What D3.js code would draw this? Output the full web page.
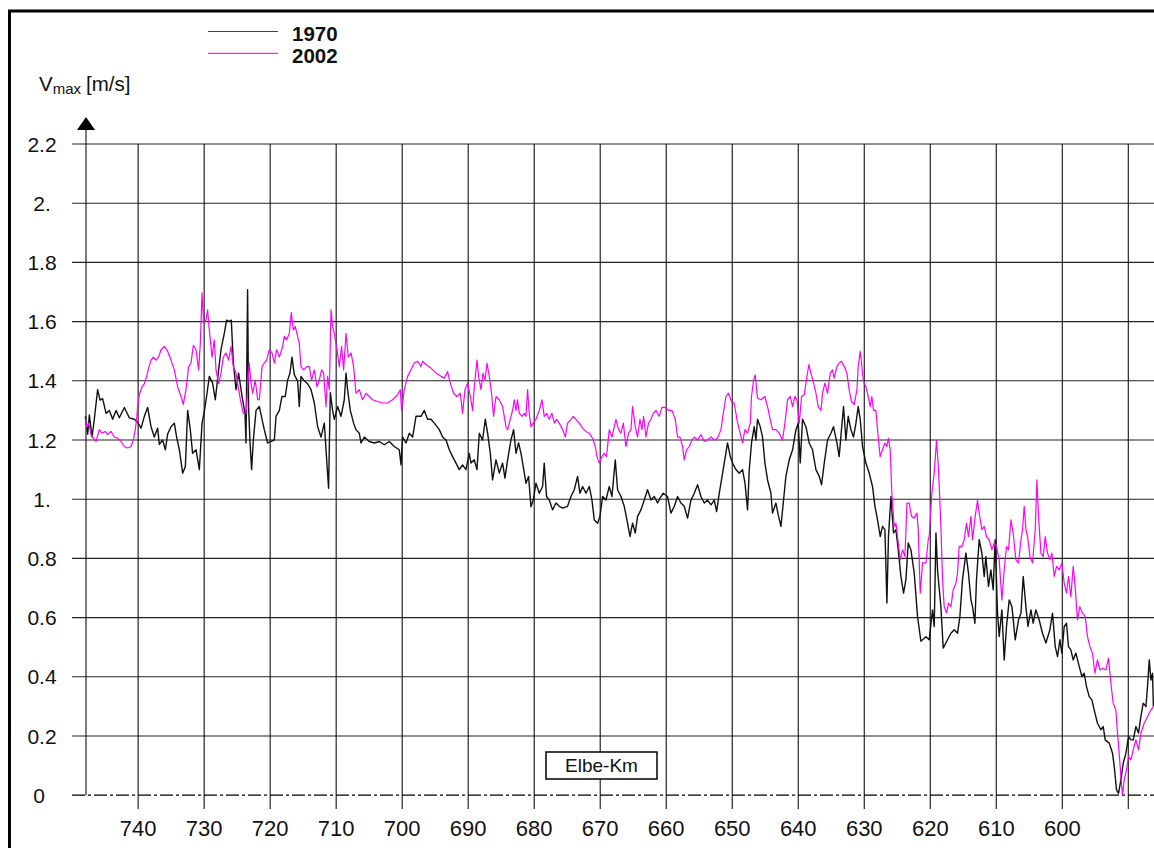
<!DOCTYPE html>
<html><head><meta charset="utf-8">
<script src="https://cdn.jsdelivr.net/npm/d3@7/dist/d3.min.js"></script>
<style>html,body{margin:0;padding:0;background:#fff;overflow:hidden}</style>
</head><body>
<svg id="c" width="1154" height="848"></svg>
<script>
// ---------- data ----------
const seriesNames = ["1970", "2002"];
const xTickKm = [740, 730, 720, 710, 700, 690, 680, 670, 660, 650, 640, 630, 620, 610, 600, 590];
const xTickLabels = ["740","730","720","710","700","690","680","670","660","650","640","630","620","610","600",""];
const yTicks = [0, 0.2, 0.4, 0.6, 0.8, 1.0, 1.2, 1.4, 1.6, 1.8, 2.0, 2.2];
const yTickLabels = ["0","0.2","0.4","0.6","0.8","1.","1.2","1.4","1.6","1.8","2.","2.2"];
const axisLabelX = "Elbe-Km";

const km1970 = [
748.0,747.65,747.39,746.99,746.64,746.14,745.77,745.38,744.86,744.36,
743.86,743.35,742.85,742.09,741.34,740.58,740.08,739.56,739.06,738.56,
738.05,737.55,737.05,736.79,736.29,735.88,735.53,735.02,734.52,734.17,
733.76,733.26,732.85,732.50,732.10,731.75,731.23,730.73,730.32,729.98,
729.63,729.22,728.72,728.31,727.81,727.45,726.95,726.60,726.19,725.89,
725.58,725.17,724.78,724.26,723.81,723.66,723.42,723.27,723.05,722.81,
722.55,722.14,721.64,721.23,720.89,720.39,719.87,719.37,719.11,718.61,
718.21,717.71,717.36,717.00,716.69,716.34,715.84,715.59,715.33,714.83,
714.33,713.81,713.31,712.81,712.30,711.80,711.54,711.15,710.89,710.54,
710.28,709.78,709.27,708.77,708.51,708.27,707.86,707.36,707.00,706.50,
706.24,705.74,704.98,704.23,703.47,702.71,701.95,701.20,700.44,700.18,
699.94,699.42,698.92,698.42,697.91,697.15,696.65,696.15,695.64,695.14,
694.38,693.88,693.36,692.86,692.36,691.85,691.35,690.85,690.34,689.84,
689.58,689.08,688.67,688.32,687.82,687.41,687.06,686.65,686.31,685.79,
685.29,684.79,684.43,684.03,683.52,683.12,682.76,682.37,682.00,681.66,
681.25,680.85,680.49,680.14,679.73,679.23,678.73,678.48,678.13,677.72,
677.22,676.70,676.20,675.70,674.95,674.43,673.93,673.43,673.07,672.67,
672.16,671.66,671.25,670.90,670.40,670.04,669.64,669.13,668.63,668.22,
667.72,667.37,666.86,666.36,665.86,665.49,665.10,664.69,664.34,663.83,
663.33,662.83,662.31,661.81,661.31,660.80,660.45,659.80,659.28,658.78,
658.28,657.77,657.27,656.77,656.25,655.75,655.25,654.74,654.24,653.74,
653.22,652.72,652.37,651.97,651.71,651.21,650.71,650.30,649.95,649.44,
648.94,648.44,648.07,647.68,647.42,647.08,646.67,646.41,646.17,645.76,
645.41,645.05,644.65,644.14,643.90,643.38,643.03,642.62,642.23,641.87,
641.36,640.86,640.35,640.00,639.70,639.35,638.84,638.34,637.84,637.32,
636.82,636.47,636.06,635.56,635.05,634.66,634.14,633.80,633.45,633.14,
632.78,632.43,632.02,631.63,631.26,630.92,630.61,630.26,629.75,629.25,
628.75,628.38,627.99,627.58,627.24,626.87,626.57,626.33,625.96,625.57,
625.20,624.85,624.45,624.05,623.69,623.34,622.93,622.43,621.93,621.42,
620.66,620.16,619.66,619.40,619.14,618.90,618.39,618.04,617.39,616.87,
616.37,615.87,615.51,615.12,614.60,614.21,613.84,613.60,613.24,613.00,
612.59,612.18,611.83,611.58,611.18,610.82,610.47,610.17,609.81,609.56,
609.15,608.80,608.45,608.04,607.63,607.13,606.63,606.26,605.92,605.51,
605.20,604.75,604.41,604.00,603.50,603.00,602.48,601.88,601.48,601.07,
600.72,600.36,600.06,599.71,599.36,599.06,598.70,598.35,597.94,597.44,
597.03,596.68,596.33,595.92,595.52,595.17,594.67,594.15,593.80,593.50,
592.89,592.39,592.13,591.78,591.48,591.12,590.77,590.36,589.96,589.60,
589.25,588.85,588.45,588.09,587.74,587.33,587.09,586.83,586.57,586.33,586.2];

const v1970 = [
1.28,1.22,1.285,1.21,1.27,1.37,1.335,1.34,1.29,1.30,
1.27,1.30,1.275,1.31,1.275,1.27,1.26,1.24,1.28,1.31,
1.245,1.21,1.24,1.185,1.20,1.167,1.22,1.245,1.257,1.21,
1.167,1.088,1.11,1.30,1.235,1.155,1.167,1.10,1.257,1.296,
1.347,1.415,1.392,1.336,1.437,1.505,1.56,1.605,1.60,1.605,
1.46,1.37,1.426,1.347,1.29,1.19,1.708,1.313,1.19,1.10,
1.20,1.30,1.313,1.27,1.235,1.19,1.195,1.20,1.28,1.30,
1.347,1.347,1.402,1.426,1.48,1.42,1.40,1.313,1.415,1.40,
1.39,1.37,1.325,1.245,1.21,1.257,1.167,1.037,1.36,1.30,
1.27,1.313,1.28,1.336,1.426,1.37,1.30,1.257,1.235,1.223,
1.19,1.21,1.195,1.19,1.195,1.184,1.195,1.178,1.167,1.116,
1.21,1.19,1.223,1.21,1.28,1.28,1.30,1.27,1.27,1.257,
1.235,1.21,1.20,1.167,1.144,1.122,1.10,1.116,1.10,1.155,
1.122,1.133,1.10,1.223,1.20,1.27,1.223,1.155,1.065,1.133,
1.088,1.122,1.071,1.133,1.20,1.235,1.155,1.19,1.155,1.11,
1.054,1.077,0.974,0.997,1.054,1.020,1.043,1.122,1.009,0.997,
0.964,0.987,0.976,0.97,0.976,1.009,1.032,1.077,1.020,1.043,
1.020,1.043,0.997,0.93,0.919,0.942,1.009,0.997,1.043,1.009,
1.133,1.032,1.009,0.976,0.919,0.874,0.919,0.886,0.942,0.964,
0.997,1.032,0.997,1.009,0.987,1.009,1.020,1.009,0.953,0.976,
1.009,0.987,0.976,0.936,0.997,1.020,1.049,1.009,0.987,0.997,
0.981,0.997,0.958,1.020,1.054,1.122,1.19,1.144,1.122,1.10,
1.088,1.10,1.054,0.964,1.10,1.19,1.245,1.20,1.27,1.245,
1.21,1.122,1.065,1.020,0.953,0.987,0.947,0.908,0.997,1.077,
1.133,1.167,1.235,1.257,1.122,1.27,1.245,1.19,1.167,1.10,
1.077,1.049,1.122,1.20,1.223,1.245,1.19,1.144,1.235,1.313,
1.20,1.28,1.235,1.21,1.257,1.313,1.27,1.178,1.122,1.088,
1.043,0.976,0.93,0.874,0.908,0.897,0.649,0.874,1.009,0.886,
0.897,0.829,0.739,0.683,0.728,0.852,0.829,0.75,0.604,0.52,
0.535,0.525,0.626,0.57,0.886,0.761,0.637,0.497,0.525,0.547,
0.559,0.547,0.604,0.728,0.818,0.75,0.66,0.637,0.581,0.728,
0.863,0.818,0.739,0.806,0.705,0.761,0.694,0.863,0.615,0.536,
0.626,0.457,0.57,0.66,0.637,0.525,0.592,0.615,0.739,0.637,
0.57,0.626,0.581,0.626,0.592,0.547,0.514,0.559,0.615,0.502,
0.468,0.525,0.48,0.57,0.581,0.502,0.491,0.457,0.48,0.435,
0.401,0.412,0.367,0.333,0.322,0.288,0.243,0.221,0.232,0.187,
0.176,0.142,0.097,0.018,0.006,0.052,0.108,0.142,0.198,0.187,
0.187,0.232,0.21,0.266,0.311,0.299,0.367,0.457,0.389,0.412,0.30];

const km2002 = [
748.0,747.80,747.50,747.14,746.89,746.38,745.88,745.47,744.97,744.62,
744.11,743.61,743.11,742.59,742.09,741.59,741.08,740.73,740.43,740.23,
740.08,739.82,739.41,739.06,738.71,738.41,738.05,737.70,737.29,736.90,
736.53,736.03,735.53,735.02,734.52,734.02,733.50,733.16,732.75,732.35,
731.99,731.64,731.23,730.84,730.58,730.32,730.08,729.72,729.48,729.22,
728.81,728.46,728.20,727.81,727.45,727.10,726.69,726.29,725.93,725.58,
725.17,724.78,724.42,724.07,723.66,723.42,723.16,722.90,722.66,722.25,
721.90,721.64,721.23,720.89,720.54,720.13,719.72,719.37,719.02,718.61,
718.11,717.86,717.51,717.10,716.80,716.49,716.19,715.84,715.59,715.33,
714.93,714.42,714.07,713.72,713.31,712.90,712.56,712.21,711.90,711.54,
711.30,711.04,710.78,710.54,710.28,709.87,709.53,709.18,708.87,708.51,
708.16,707.75,707.36,707.00,706.50,706.00,705.48,704.98,704.48,703.73,
702.97,702.21,701.45,700.70,700.29,700.09,699.68,699.18,698.67,698.17,
697.67,697.15,696.91,696.40,695.64,694.88,694.12,693.62,693.12,692.71,
692.21,691.70,691.20,690.85,690.49,690.09,689.68,689.33,689.08,688.67,
688.43,688.06,687.76,687.46,687.15,686.81,686.46,686.16,685.79,685.29,
684.79,684.28,684.03,683.63,683.28,683.02,682.76,682.52,682.26,681.85,
681.50,681.25,681.00,680.75,680.49,680.14,679.73,679.23,678.82,678.48,
678.13,677.72,677.31,676.96,676.61,676.20,675.70,675.29,674.95,674.43,
674.08,673.67,673.17,672.67,672.16,671.66,671.16,670.75,670.49,670.14,
669.73,669.39,669.04,668.63,668.22,667.87,667.62,667.22,666.86,666.50,
666.10,665.71,665.34,665.10,664.69,664.34,663.98,663.68,663.43,663.07,
662.68,662.31,661.96,661.56,661.06,660.65,660.15,659.65,659.14,658.63,
658.28,657.92,657.52,657.27,656.92,656.51,656.10,655.75,655.25,654.74,
654.24,653.74,653.22,652.72,652.23,651.71,651.36,650.95,650.56,650.11,
649.70,649.29,648.94,648.44,648.07,647.68,647.27,647.08,646.77,646.52,
646.17,645.66,645.05,644.65,644.25,643.90,643.38,642.88,642.38,642.02,
641.62,641.21,640.86,640.50,640.20,639.85,639.50,639.09,638.68,638.38,
638.08,637.68,637.32,636.97,636.56,636.32,635.96,635.56,635.15,634.81,
634.55,634.14,633.80,633.45,633.04,632.63,632.29,631.94,631.52,631.11,
630.92,630.61,630.42,630.11,629.75,629.40,629.10,628.85,628.60,628.24,
627.89,627.59,627.24,626.87,626.57,626.33,626.07,625.82,625.46,625.20,
624.85,624.55,624.20,623.84,623.53,623.18,622.84,622.43,622.02,621.82,
621.52,621.17,620.66,620.31,620.16,619.76,619.40,619.05,618.75,618.39,
618.14,617.89,617.54,617.24,616.87,616.52,616.12,615.87,615.62,615.21,
614.86,614.51,614.21,613.84,613.60,613.19,612.84,612.59,612.18,611.83,
611.48,611.07,610.66,610.31,609.96,609.56,609.15,608.80,608.45,608.15,
607.78,607.44,607.03,606.63,606.26,606.02,605.77,605.51,605.26,604.90,
604.51,604.10,603.85,603.60,603.24,602.89,602.59,602.24,601.88,601.57,
601.22,600.87,600.47,600.06,599.71,599.36,599.06,598.70,598.35,598.05,
597.70,597.34,596.94,596.53,596.18,595.82,595.43,595.06,594.67,594.30,
593.91,593.39,593.00,592.64,592.29,591.88,591.64,591.38,591.12,590.88,
590.62,590.28,589.97,589.60,589.25,588.85,588.45,588.09,587.59,587.09,586.57,586.2];

const v2002 = [
1.27,1.245,1.257,1.218,1.21,1.195,1.235,1.223,1.229,1.218,
1.229,1.21,1.206,1.195,1.178,1.173,1.178,1.20,1.235,1.27,
1.313,1.353,1.38,1.39,1.415,1.443,1.47,1.48,1.47,1.48,
1.505,1.516,1.50,1.47,1.437,1.38,1.347,1.32,1.37,1.448,
1.46,1.52,1.505,1.437,1.527,1.697,1.595,1.606,1.64,1.572,
1.48,1.538,1.437,1.39,1.426,1.48,1.494,1.47,1.516,1.448,
1.426,1.37,1.325,1.29,1.29,1.37,1.46,1.39,1.358,1.402,
1.336,1.336,1.448,1.46,1.47,1.505,1.494,1.46,1.505,1.48,
1.516,1.55,1.538,1.56,1.63,1.572,1.583,1.55,1.527,1.448,
1.437,1.448,1.448,1.402,1.437,1.38,1.402,1.437,1.426,1.313,
1.415,1.37,1.64,1.583,1.56,1.505,1.448,1.516,1.437,1.56,
1.48,1.494,1.448,1.358,1.37,1.336,1.358,1.347,1.336,1.33,
1.325,1.325,1.336,1.353,1.37,1.30,1.37,1.415,1.437,1.46,
1.466,1.448,1.466,1.455,1.443,1.426,1.415,1.409,1.431,1.392,
1.358,1.347,1.358,1.29,1.37,1.392,1.347,1.30,1.38,1.47,
1.415,1.37,1.426,1.402,1.46,1.415,1.358,1.28,1.347,1.336,
1.313,1.245,1.235,1.27,1.30,1.336,1.30,1.336,1.29,1.28,
1.29,1.28,1.37,1.29,1.245,1.257,1.27,1.30,1.336,1.28,
1.29,1.27,1.29,1.257,1.27,1.257,1.235,1.21,1.257,1.27,
1.28,1.27,1.257,1.24,1.229,1.223,1.206,1.178,1.144,1.122,
1.144,1.155,1.144,1.235,1.21,1.245,1.27,1.235,1.223,1.257,
1.178,1.223,1.235,1.313,1.245,1.21,1.27,1.235,1.28,1.21,
1.257,1.27,1.29,1.30,1.28,1.31,1.31,1.30,1.30,1.27,
1.21,1.21,1.178,1.133,1.167,1.178,1.20,1.21,1.20,1.218,
1.195,1.20,1.21,1.20,1.206,1.235,1.29,1.347,1.358,1.33,
1.325,1.27,1.235,1.19,1.235,1.223,1.257,1.347,1.402,1.42,
1.341,1.336,1.347,1.313,1.27,1.235,1.235,1.223,1.20,1.257,
1.336,1.347,1.313,1.347,1.336,1.257,1.347,1.353,1.415,1.455,
1.426,1.392,1.358,1.313,1.30,1.358,1.392,1.358,1.426,1.437,
1.409,1.448,1.46,1.466,1.448,1.426,1.37,1.33,1.32,1.37,
1.448,1.50,1.46,1.398,1.38,1.347,1.313,1.347,1.30,1.30,
1.21,1.144,1.167,1.19,1.178,1.206,1.167,1.02,0.908,0.919,
0.852,0.795,0.829,0.806,0.987,0.987,0.942,0.936,0.953,0.897,
0.683,0.785,0.785,0.863,0.874,1.02,1.088,1.20,1.10,0.908,
0.728,0.637,0.615,0.649,0.637,0.694,0.716,0.75,0.84,0.84,
0.863,0.919,0.874,0.942,0.863,0.942,0.997,0.953,0.897,0.908,
0.874,0.863,0.829,0.852,0.84,0.795,0.66,0.761,0.84,0.829,
0.93,0.886,0.795,0.785,0.863,0.897,0.976,0.897,0.874,0.806,
0.785,0.897,1.065,0.942,0.818,0.806,0.874,0.818,0.795,0.818,
0.739,0.773,0.761,0.785,0.716,0.683,0.739,0.671,0.773,0.705,
0.592,0.637,0.615,0.604,0.536,0.502,0.48,0.412,0.457,0.423,
0.429,0.423,0.463,0.378,0.311,0.288,0.21,0.142,0.063,0.0,
0.052,0.085,0.13,0.119,0.153,0.187,0.153,0.21,0.243,0.266,0.288,0.299];

// ---------- chart ----------
const svg = d3.select("#c");
const FONT = "'Liberation Sans', Arial, Helvetica, sans-serif";

const x = d3.scaleLinear().domain([747.9, 590]).range([86, 1128.3]);
const y = d3.scaleLinear().domain([0, 2.2]).range([795.2, 144]);

// outer frame (extends past the right/bottom of the picture)
svg.append("rect").attr("x", 9.5).attr("y", 11).attr("width", 1300).attr("height", 1000)
  .attr("fill", "none").attr("stroke", "#000").attr("stroke-width", 3);

// horizontal grid lines
svg.append("g").selectAll("line").data(yTicks.filter(d => d > 0)).join("line")
  .attr("x1", 72).attr("x2", 1160)
  .attr("y1", d => y(d)).attr("y2", d => y(d))
  .attr("stroke", "#222").attr("stroke-width", 1.1);

// vertical grid lines
svg.append("g").selectAll("line").data(xTickKm).join("line")
  .attr("x1", d => x(d)).attr("x2", d => x(d))
  .attr("y1", y(2.2)).attr("y2", 809)
  .attr("stroke", "#111").attr("stroke-width", 1.1);

// zero line: dash-dot
svg.append("line").attr("x1", 72).attr("x2", 1160).attr("y1", y(0)).attr("y2", y(0))
  .attr("stroke", "#000").attr("stroke-width", 1.2).attr("stroke-dasharray", "13,3,3,3");

// y axis line + arrow
svg.append("line").attr("x1", 86).attr("x2", 86).attr("y1", 128).attr("y2", y(0))
  .attr("stroke", "#111").attr("stroke-width", 1.1);
svg.append("path").attr("d", "M86,117 L95,130 L77,130 Z").attr("fill", "#000");

// y tick labels
svg.append("g").selectAll("text").data(yTicks).join("text")
  .attr("x", d => d === 0 ? 39 : 42).attr("y", d => y(d) + 7.5)
  .attr("text-anchor", "middle")
  .attr("font-family", FONT).attr("font-size", 21).attr("fill", "#111")
  .text((d, i) => yTickLabels[i]);

// x tick labels
svg.append("g").selectAll("text").data(xTickKm).join("text")
  .attr("x", d => x(d)).attr("y", 836)
  .attr("text-anchor", "middle")
  .attr("font-family", FONT).attr("font-size", 22).attr("fill", "#111")
  .text((d, i) => xTickLabels[i]);

// y axis title  V_max [m/s]
const t = svg.append("text").attr("x", 39).attr("y", 91)
  .attr("font-family", FONT).attr("font-size", 20.5).attr("fill", "#111");
t.append("tspan").text("V");
t.append("tspan").attr("font-size", 15).attr("dy", 3).text("max");
t.append("tspan").attr("dy", -3).attr("dx", 5).text("[m/s]");

// x axis label box
const bx = 546, by = 752, bw = 111, bh = 27;
svg.append("rect").attr("x", bx).attr("y", by).attr("width", bw).attr("height", bh)
  .attr("fill", "#fff").attr("stroke", "#000").attr("stroke-width", 1.5);
svg.append("text").attr("x", bx + bw / 2).attr("y", by + 20)
  .attr("text-anchor", "middle").attr("font-family", FONT).attr("font-size", 19).attr("fill", "#111")
  .text(axisLabelX);

// series
const colors = ["#111", "#ff00ff"];
const widths = [1.4, 1.2];
const series = [
  d3.range(Math.min(km1970.length, v1970.length)).map(i => [km1970[i], v1970[i]]),
  d3.range(Math.min(km2002.length, v2002.length)).map(i => [km2002[i], v2002[i]])
];
const line = d3.line().x(d => x(d[0])).y(d => y(d[1]));
svg.append("path").datum(series[0]).attr("d", line)
  .attr("fill", "none").attr("stroke", colors[0]).attr("stroke-width", widths[0]).attr("stroke-linejoin", "round");
svg.append("path").datum(series[1]).attr("d", line)
  .attr("fill", "none").attr("stroke", colors[1]).attr("stroke-width", widths[1]).attr("stroke-linejoin", "round");

// legend
const legY = [31.5, 53.3];
const legText = [41, 63];
const legStroke = ["#444", "#e000e0"];
seriesNames.forEach((n, i) => {
  svg.append("line").attr("x1", 208).attr("x2", 278).attr("y1", legY[i]).attr("y2", legY[i])
    .attr("stroke", legStroke[i]).attr("stroke-width", 1);
  svg.append("text").attr("x", 292).attr("y", legText[i])
    .attr("font-family", FONT).attr("font-size", 20.5).attr("font-weight", "bold").attr("fill", "#111")
    .text(n);
});
</script>
</body></html>
